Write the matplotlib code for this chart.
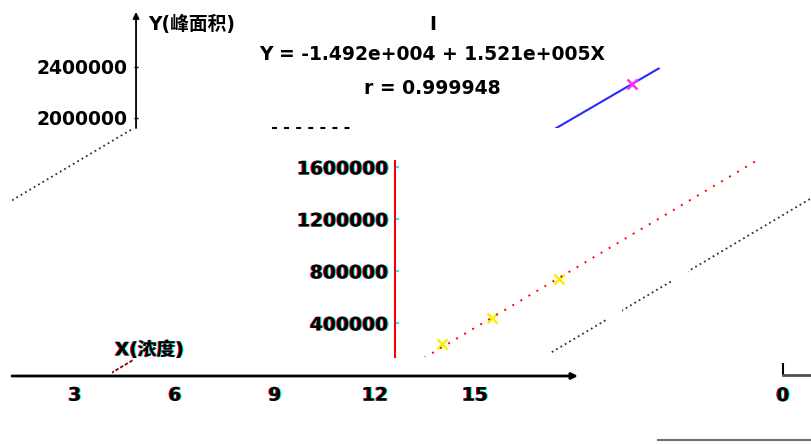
import numpy as np
import matplotlib
matplotlib.use('Agg')
import matplotlib.pyplot as plt
import matplotlib.patheffects as pe
from matplotlib.lines import Line2D

# data
conc = [1.5, 3, 5, 15]                      # X (浓度)
area = [238000, 438000, 740000, 2268000]    # Y (峰面积)
intercept = -1.492e4
slope = 1.521e5
r_value = 0.999948
x_ticks = [3, 6, 9, 12, 15]
low_ticks = [400000, 800000, 1200000, 1600000]
up_ticks = [2000000, 2400000]
fit_x = np.array([0, 15.8])
ghost_x = np.array([-20, 30])

fit_y = intercept + slope * fit_x
ghost_y = intercept + slope * ghost_x

W, H = 811, 444
SX = 100 / 3            # pixels per X unit
SY_LOW = 52 / 400000    # pixels per Y unit, lower part
SY_UP = 51 / 400000     # pixels per Y unit, upper part
FS = 13.5

plt.rcParams['font.family'] = ['DejaVu Sans', 'Noto Sans CJK SC']
plt.rcParams['font.weight'] = 'bold'

fig = plt.figure(figsize=(W / 100, H / 100), dpi=100)
fig.patch.set_facecolor('white')

fringe = [pe.SimplePatchShadow(offset=(-0.8, 0), shadow_rgbFace='red', alpha=1),
          pe.SimplePatchShadow(offset=(0.8, 0), shadow_rgbFace='cyan', alpha=1),
          pe.Normal()]


def sci(v):
    # 3 digit exponent like the old C runtime printf
    m, e = ('%.3e' % v).split('e')
    return '%se%s%03d' % (m, e[0], abs(int(e)))


def panel(l, t, r, b, x0, y0, sy=SY_LOW):
    # axes over pixel box (l,t,r,b) whose data origin sits at pixel (x0,y0)
    ax = fig.add_axes([l / W, 1 - b / H, (r - l) / W, (b - t) / H])
    ax.set_xlim((l - x0) / SX, (r - x0) / SX)
    ax.set_ylim((y0 - b) / sy, (y0 - t) / sy)
    ax.patch.set_visible(False)
    for s in ax.spines.values():
        s.set_visible(False)
    ax.set_xticks([])
    ax.set_yticks([])
    return ax


# lower part (red axis)
ax_lo = panel(395, 161, 811, 357, 392, 375)
ax_lo.spines['left'].set_visible(True)
ax_lo.spines['left'].set_color('red')
ax_lo.spines['left'].set_linewidth(1.5)
ax_lo.set_yticks(low_ticks)
ax_lo.set_yticklabels([str(v) for v in low_ticks])
ax_lo.tick_params(axis='y', direction='in', length=3, width=1.5, color='cyan',
                  pad=5, labelsize=FS)
for t in ax_lo.get_yticklabels():
    t.set_path_effects(fringe)
ax_lo.plot(conc, area, 'x', color='#f5f000', ms=7, mew=1.8, zorder=2)
ax_lo.plot(fit_x, fit_y, color='red', lw=1.4, dashes=(1, 3.8), zorder=3)

# upper part
ax_up = panel(134, 12, 811, 128, 132, 373, SY_UP)
ax_up.set_yticks(up_ticks)
ax_up.set_yticklabels([str(v) for v in up_ticks])
ax_up.tick_params(axis='y', direction='in', length=3, width=1, color='black',
                  pad=5, labelsize=FS)
ax_up.annotate('', xy=(0.003, 1), xytext=(0.003, 0), xycoords='axes fraction',
               arrowprops=dict(arrowstyle='-|>', color='black', lw=1.3,
                               mutation_scale=9, shrinkA=0, shrinkB=0))
ax_up.plot(fit_x, fit_y, color='#2a2aff', lw=1.5, zorder=2)
ax_up.plot(conc, area, 'x', color='#ff30ff', ms=7, mew=1.8, zorder=3)
ylo = ax_up.get_ylim()[0]
ax_up.hlines(ylo, 4.2, 6.7, color='black', lw=1.5, linestyles=(0, (2.4, 3.4)),
             clip_on=False)

# x axis
ax_x = panel(12, 300, 578, 376, -25, 376)
ax_x.set_xticks(x_ticks)
ax_x.set_xticklabels([str(v) for v in x_ticks])
ax_x.tick_params(axis='x', length=0, pad=7, labelsize=FS)
for t in ax_x.get_xticklabels():
    t.set_path_effects(fringe)
ax_x.annotate('', xy=(1, 0), xytext=(0, 0), xycoords='axes fraction',
              arrowprops=dict(arrowstyle='-|>', color='black', lw=2,
                              mutation_scale=9, shrinkA=0, shrinkB=0))

# ghost copies of the fitted line
g1 = panel(12, 128, 134, 201, 392, -27)
g1.plot(ghost_x, ghost_y, color='#303030', lw=1.3, dashes=(1, 1.8))
for l, r in [(550, 607), (622, 673), (688, 811)]:
    g = panel(l, 196, r, 357, 392, 445)
    g.plot(ghost_x, ghost_y, color='#303030', lw=1.3, dashes=(1, 1.8))
g3 = panel(112, 358, 134, 374, 392, 204.5)
g3.plot(ghost_x, ghost_y, color='#900000', lw=1.3, dashes=(2, 1))

# stray origin at bottom right
ax0 = panel(783, 340, 811, 375, 783, 375)
ax0.spines['bottom'].set_visible(True)
ax0.spines['bottom'].set_color('#505050')
ax0.spines['bottom'].set_linewidth(2)
ax0.set_xticks([0])
ax0.set_xticklabels(['0'])
ax0.tick_params(axis='x', direction='in', length=9, width=1.5, color='black',
                pad=8, labelsize=FS)
for t in ax0.get_xticklabels():
    t.set_path_effects(fringe)
fig.add_artist(Line2D([658 / W, 1], [1 - 440 / H, 1 - 440 / H],
                      color='#707070', lw=1.5))

# texts
fig.text(148 / W, 1 - 24 / H, 'Y(峰面积)', ha='left', va='center', fontsize=FS)
fig.text(115 / W, 1 - 350 / H, 'X(浓度)', ha='left', va='center', fontsize=FS,
         path_effects=fringe)
fig.text(433 / W, 1 - 25 / H, 'I', ha='center', va='center', fontsize=FS)
fig.text(432 / W, 1 - 55 / H, 'Y = %s + %sX' % (sci(intercept), sci(slope)),
         ha='center', va='center', fontsize=FS)
fig.text(432 / W, 1 - 88 / H, 'r = %.6f' % r_value, ha='center', va='center',
         fontsize=FS)

fig.savefig('out.png', dpi=100)
